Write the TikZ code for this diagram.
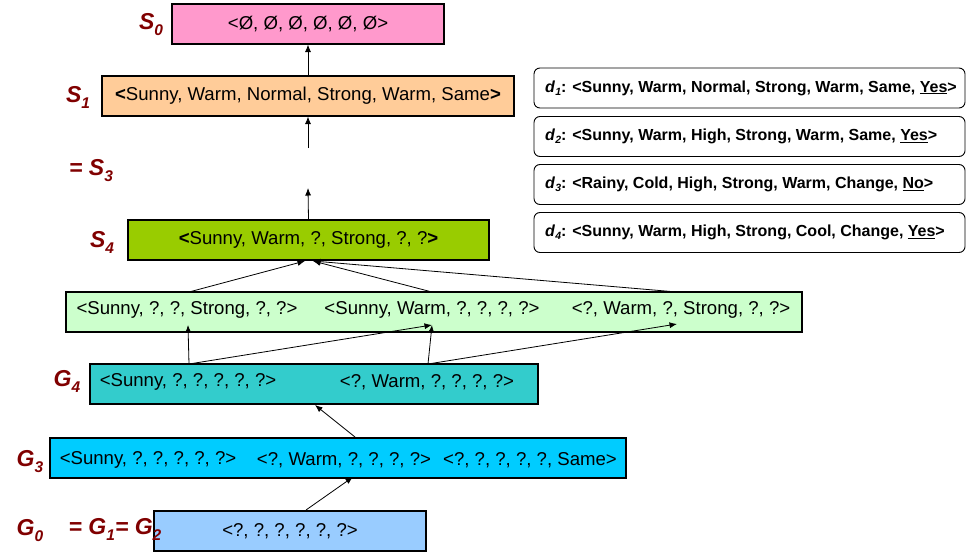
\documentclass[tikz,border=0pt]{standalone}
\usepackage{fontspec}
\setmainfont{Liberation Sans}
\usetikzlibrary{arrows.meta}
\definecolor{lblred}{RGB}{128,0,0}
\definecolor{cpink}{HTML}{FF99CC}
\definecolor{cpeach}{HTML}{FFCC99}
\definecolor{colive}{HTML}{99CC00}
\definecolor{cmint}{HTML}{CCFFCC}
\definecolor{cteal}{HTML}{33CCCC}
\definecolor{csky}{HTML}{00CCFF}
\definecolor{cblue}{HTML}{99CCFF}
\newcommand\mysub[1]{\raisebox{-6pt}{\fontsize{15.5}{15.5}\selectfont #1}}
\newcommand\dsub[1]{\raisebox{-3pt}{\fontsize{10.5}{10.5}\selectfont\itshape #1}}
\begin{document}
\begin{tikzpicture}[x=1pt,y=-1pt,
  hbox/.style={draw=black,line width=1.1pt,minimum height=40pt,inner sep=0pt,
    font=\fontsize{18.6}{20}\selectfont},
  htext/.style={inner sep=2pt,font=\fontsize{18.6}{20}\selectfont},
  dbox/.style={draw=black,line width=0.9pt,rounded corners=6pt,minimum width=431pt,
    minimum height=40pt,inner sep=0pt},
  dtext/.style={anchor=west,inner sep=0pt,font=\fontsize{16}{17}\selectfont\bfseries},
  lbl/.style={text=lblred,inner sep=0pt,font=\fontsize{23}{24}\selectfont\bfseries\itshape},
  arr/.style={-{Latex[length=7.5pt,width=6pt]},line width=0.8pt}]
\useasboundingbox (0,0) rectangle (966,559);

% boxes
\node[hbox,fill=cpink,minimum width=272pt] (S0) at (308,24) {<Ø, Ø, Ø, Ø, Ø, Ø>};
\node[hbox,fill=cpeach,minimum width=412pt] (S1) at (308,96)
  {\textbf{<}Sunny, Warm, Normal, Strong, Warm, Same\textbf{>}};
\node[hbox,fill=colive,minimum width=361pt] (S4) at (308.5,240)
  {\textbf{<}Sunny, Warm, ?, Strong, ?, ?\textbf{>}};
\node[hbox,fill=cmint,minimum width=736pt] (GR) at (434,312) {};
\node[hbox,fill=cteal,minimum width=448pt] (G4) at (314,384) {};
\node[hbox,fill=csky,minimum width=576pt] (G3) at (338,458) {};
\node[hbox,fill=cblue,minimum width=272pt] (G0) at (290,531) {<?, ?, ?, ?, ?, ?>};

% texts inside multi boxes
\node[htext] (gr1) at (187,310) {<Sunny, ?, ?, Strong, ?, ?>};
\node[htext] (gr2) at (432,310) {<Sunny, Warm, ?, ?, ?, ?>};
\node[htext] (gr3) at (681,310) {<?, Warm, ?, Strong, ?, ?>};
\node[htext] (g41) at (188,382) {<Sunny, ?, ?, ?, ?, ?>};
\node[htext] (g42) at (427,382) {<?, Warm, ?, ?, ?, ?>};
\node[htext] (g31) at (148,460) {<Sunny, ?, ?, ?, ?, ?>};
\node[htext] (g32) at (344,460) {<?, Warm, ?, ?, ?, ?>};
\node[htext] (g33) at (530,460) {<?, ?, ?, ?, ?, Same>};

% training examples
\node[dbox] (d1) at (749.5,88) {};
\node[dbox] (d2) at (749.5,136.5) {};
\node[dbox] (d3) at (749.5,184.5) {};
\node[dbox] (d4) at (749.5,232.5) {};
\node[dtext] (t1) at (545,88) {\textit{d}\dsub{1}: <Sunny, Warm, Normal, Strong, Warm, Same, \underline{Yes}>};
\node[dtext] (t2) at (545,136.5) {\textit{d}\dsub{2}: <Sunny, Warm, High, Strong, Warm, Same, \underline{Yes}>};
\node[dtext] (t3) at (545,184.5) {\textit{d}\dsub{3}: <Rainy, Cold, High, Strong, Warm, Change, \underline{No}>};
\node[dtext] (t4) at (545,232.5) {\textit{d}\dsub{4}: <Sunny, Warm, High, Strong, Cool, Change, \underline{Yes}>};

% coordinates
\coordinate (s3lo) at (308,148);
\coordinate (s3hi) at (308,188);
\coordinate (s4l) at (305,261);
\coordinate (s4r) at (313,261);
\coordinate (g3top) at (355,437);
\coordinate (g4bot) at (315,405);
\coordinate (g0top) at (306,510);
\coordinate (g3bot) at (353,477);
\coordinate (gin1) at (188,325);
\coordinate (gin2) at (432,325);
\coordinate (gin3) at (677,324);
\coordinate (gout1) at (189,292);
\coordinate (gout2) at (432,292);
\coordinate (gout3) at (677,292);
\coordinate (g4o1) at (189,364);
\coordinate (g4o2) at (428,364);

% connectors
\draw[arr] (S1.north) -- (S0.south);
\draw[arr] (s3lo) -- (S1.south);
\draw[arr] (S4.north) -- (s3hi);
\draw[arr] (gout1) -- (s4l);
\draw[arr] (gout2) -- (s4r);
\draw[arr] (gout3) -- (s4r);
\draw[arr] (g4o1) -- (gin1);
\draw[arr] (g4o1) -- (gin2);
\draw[arr] (g4o2) -- (gin2);
\draw[arr] (g4o2) -- (gin3);
\draw[arr] (g3top) -- (g4bot);
\draw[arr] (g0top) -- (g3bot);

% labels
\node[lbl] (L0) at (151,25) {S\mysub{0}};
\node[lbl] (L1) at (78,97) {S\mysub{1}};
\node[lbl] (L3) at (91,171) {= S\mysub{3}};
\node[lbl] (L4) at (102,242) {S\mysub{4}};
\node[lbl] (LG4) at (67,381) {G\mysub{4}};
\node[lbl] (LG3) at (30,462) {G\mysub{3}};
\node[lbl] (LG0) at (30,531) {G\mysub{0}};
\node[lbl] (LG12) at (115,529) {= G\mysub{1}= G\mysub{2}};
\end{tikzpicture}
\end{document}
